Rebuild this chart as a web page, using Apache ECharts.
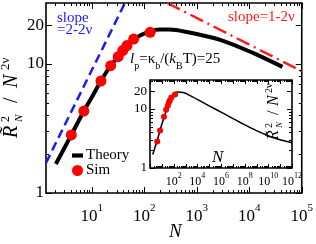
<!DOCTYPE html>
<html><head><meta charset="utf-8">
<script src="https://cdn.jsdelivr.net/npm/echarts@6/dist/echarts.min.js"></script>
<style>html,body{margin:0;padding:0;background:#fff}#c{width:316px;height:244px}</style>
</head><body><div id="c"></div>
<script>
// ---- data ----
const simN = [4.1, 7.1, 15, 23, 32, 39, 47, 63, 130];
const simV = [2.82, 4.32, 7.38, 9.7, 11.4, 12.7, 13.9, 15.6, 17.6];
const theoryN = [2.08, 4.1, 7.1, 10, 15, 23, 32, 47, 63, 130, 200, 300, 646, 2800, 11750, 43000];
const theoryV = [1.68, 2.82, 4.32, 5.5, 7.38, 9.7, 11.4, 13.9, 15.6, 18.0, 18.5, 18.5, 17.7, 15.4, 12.2, 9.5];
const insetTheoryN = [1.7, 4, 10, 32, 100, 200, 630, 2450, 6.3e4, 1.6e6, 4.3e7, 1.1e9, 2.8e10, 1e12];
const insetTheoryV = [1.7, 2.9, 5.5, 11, 18, 19.5, 19, 16.9, 11.9, 8.4, 5.9, 4.25, 3.26, 2.68];
const slopeRodN = [1.35, 43];
const slopeRodV = [1.71, 29.7];
const slopeGaussN = [275, 1e5];
const slopeGaussV = [29.7, 8.8];
const mainXTicks = [10, 100, 1000, 10000, 100000];
const mainYTicks = [1, 10, 20];
const insetXTicks = [100, 1e4, 1e6, 1e8, 1e10, 1e12];
const insetYTicks = [1, 10, 20];

const FONT = "'Liberation Serif','Times New Roman',serif";
const zip = (a, b) => a.map((v, i) => [v, b[i]]);
const XMIN = 1.35, XMAX = 1e5, YMIN = 1, YMAX = 29.7;
const IXMIN = 1, IXMAX = 1e12, IYMIN = 1, IYMAX = 31;

function minorVals(lo, hi) {
  const out = [];
  for (let k = Math.floor(Math.log10(lo)); k <= Math.ceil(Math.log10(hi)); k++) {
    for (let m = 2; m <= 9; m++) {
      const v = m * Math.pow(10, k);
      if (v >= lo && v <= hi) out.push(v);
    }
  }
  return out;
}
function decadeVals(lo, hi) {
  const out = [];
  for (let k = Math.ceil(Math.log10(lo) - 1e-9); k <= Math.log10(hi) + 1e-9; k++) out.push(Math.pow(10, k));
  return out;
}
function logAx(o) {
  return Object.assign({
    type: 'log', logBase: 10, splitLine: { show: false },
    axisLine: { show: false }, axisLabel: { show: false }, axisTick: { show: false }
  }, o);
}
const supFmt = v => '{b|10}{s|' + Math.round(Math.log10(v)) + '}';

const option = {
  animation: false,
  backgroundColor: '#fff',
  grid: [
    { left: 46, top: 3, width: 259, height: 190, show: true, borderColor: '#000', borderWidth: 1.6, backgroundColor: 'transparent' },
    { left: 150, top: 80, width: 142, height: 88, show: true, borderColor: '#000', borderWidth: 1.6, backgroundColor: '#fff', z: 3 }
  ],
  xAxis: [
    logAx({ gridIndex: 0, min: XMIN, max: XMAX, position: 'bottom',
      axisLabel: { show: true, customValues: mainXTicks, margin: 10, formatter: supFmt,
        rich: { b: { fontSize: 17, fontFamily: FONT, color: '#000', verticalAlign: 'bottom', lineHeight: 22 },
                s: { fontSize: 11, fontFamily: FONT, color: '#000', verticalAlign: 'top', lineHeight: 11 } } } }),
    logAx({ gridIndex: 1, min: IXMIN, max: IXMAX, position: 'bottom',
      axisLabel: { show: true, customValues: insetXTicks, margin: 4, formatter: supFmt,
        rich: { b: { fontSize: 12, fontFamily: FONT, color: '#000', verticalAlign: 'bottom', lineHeight: 16 },
                s: { fontSize: 8, fontFamily: FONT, color: '#000', verticalAlign: 'top', lineHeight: 8 } } } })
  ],
  yAxis: [
    logAx({ gridIndex: 0, min: YMIN, max: YMAX, position: 'left',
      axisLabel: { show: true, customValues: mainYTicks, margin: 2, fontSize: 17, fontFamily: FONT, color: '#000' } }),
    logAx({ gridIndex: 1, min: IYMIN, max: IYMAX, position: 'left',
      axisLabel: { show: true, customValues: insetYTicks, margin: 3, fontSize: 13, fontFamily: FONT, color: '#000' } })
  ],
  legend: {
    orient: 'vertical', left: 72, top: 148, itemWidth: 11, itemHeight: 11, itemGap: 0, padding: 0,
    data: [{ name: 'Theory', icon: 'path://M0,0L10,0L10,3.8L0,3.8Z' }, { name: 'Sim', icon: 'circle' }],
    textStyle: { fontSize: 15, lineHeight: 11, fontFamily: FONT, color: '#000', padding: [0, 0, 0, -2] }
  },
  series: [
    { name: 'slopeRod', type: 'line', xAxisIndex: 0, yAxisIndex: 0, data: zip(slopeRodN, slopeRodV), symbol: 'none', silent: true,
      lineStyle: { color: '#1a1aff', width: 2.5, type: [9, 5] }, z: 2 },
    { name: 'slopeGauss', type: 'line', xAxisIndex: 0, yAxisIndex: 0, data: zip(slopeGaussN, slopeGaussV), symbol: 'none', silent: true,
      lineStyle: { color: '#ff1a1a', width: 2.5, type: [14, 5, 2, 5] }, z: 2 },
    { name: 'Theory', type: 'line', xAxisIndex: 0, yAxisIndex: 0, data: zip(theoryN, theoryV), symbol: 'none', smooth: 0.3,
      lineStyle: { color: '#000', width: 4 }, itemStyle: { color: '#000' }, z: 2 },
    { name: 'Sim', type: 'scatter', xAxisIndex: 0, yAxisIndex: 0, data: zip(simN, simV), symbolSize: 11,
      itemStyle: { color: '#ff0000', opacity: 1 }, z: 3 },
    { name: 'insetTheory', type: 'line', xAxisIndex: 1, yAxisIndex: 1, data: zip(insetTheoryN, insetTheoryV), symbol: 'none', smooth: 0.3,
      lineStyle: { color: '#000', width: 1.5 }, z: 5 },
    { name: 'insetSim', type: 'scatter', xAxisIndex: 1, yAxisIndex: 1, data: zip(simN, simV), symbolSize: 6,
      itemStyle: { color: '#ff0000', opacity: 1 }, z: 6 }
  ]
};
const chart = echarts.init(document.getElementById('c'), null, { renderer: 'canvas' });
chart.setOption(option);

// ---- text annotations ----
const texts = [
  { type: 'text', left: 57, top: 11, style: { text: 'slope\n=2-2ν', font: '15px ' + FONT, fill: '#1a1aff', lineHeight: 12 } },
  { type: 'text', left: 228, top: 10, style: { text: 'slope=1-2ν', font: '15px ' + FONT, fill: '#ff1a1a' } },
  { type: 'text', left: 130, top: 52, style: {
      text: '{i|l}{s|p}{n|=κ}{s|b}{n|/(}{i|k}{s|B}{n|T)=25}',
      rich: {
        i: { font: 'italic 15px ' + FONT, fill: '#000', verticalAlign: 'top', lineHeight: 19 },
        n: { font: '15px ' + FONT, fill: '#000', verticalAlign: 'top', lineHeight: 19 },
        s: { font: '10px ' + FONT, fill: '#000', verticalAlign: 'bottom', lineHeight: 10 }
      } } },
  { type: 'text', left: 169, top: 222, style: { text: 'N', font: 'italic 19px ' + FONT, fill: '#000' } },
  { type: 'text', left: 212, top: 149, z: 10, style: { text: 'N', font: 'italic 17px ' + FONT, fill: '#000' } },
  { type: 'group', x: 22, y: 138, rotation: Math.PI / 2, children: [
    { type: 'text', x: 0, y: 0, style: { text: 'R̃', font: 'italic 20px ' + FONT, fill: '#000', verticalAlign: 'bottom' } },
    { type: 'text', x: 16, y: -10, style: { text: '2', font: '12px ' + FONT, fill: '#000', verticalAlign: 'bottom' } },
    { type: 'text', x: 16, y: 3, style: { text: 'N', font: 'italic 11px ' + FONT, fill: '#000', verticalAlign: 'bottom' } },
    { type: 'text', x: 35, y: 0, style: { text: '/', font: '20px ' + FONT, fill: '#000', verticalAlign: 'bottom' } },
    { type: 'text', x: 50, y: 0, style: { text: 'N', font: 'italic 20px ' + FONT, fill: '#000', verticalAlign: 'bottom' } },
    { type: 'text', x: 68, y: -10, style: { text: '2ν', font: '13px ' + FONT, fill: '#000', verticalAlign: 'bottom' } }
  ] },
  { type: 'group', x: 282, y: 140, rotation: Math.PI / 2, z: 10, children: [
    { type: 'text', z: 10, x: 0, y: 0, style: { text: 'R̃', font: 'italic 16px ' + FONT, fill: '#000', verticalAlign: 'bottom' } },
    { type: 'text', z: 10, x: 12, y: -8, style: { text: '2', font: '10px ' + FONT, fill: '#000', verticalAlign: 'bottom' } },
    { type: 'text', z: 10, x: 12, y: 2, style: { text: 'N', font: 'italic 9px ' + FONT, fill: '#000', verticalAlign: 'bottom' } },
    { type: 'text', z: 10, x: 25, y: 0, style: { text: '/', font: '16px ' + FONT, fill: '#000', verticalAlign: 'bottom' } },
    { type: 'text', z: 10, x: 34, y: 0, style: { text: 'N', font: 'italic 16px ' + FONT, fill: '#000', verticalAlign: 'bottom' } },
    { type: 'text', z: 10, x: 47, y: -8, style: { text: '2ν', font: '10px ' + FONT, fill: '#000', verticalAlign: 'bottom' } }
  ] }
];

// ---- axis tick marks, placed through the chart's own log scales ----
const ticks = [];
function seg(x1, y1, x2, y2) {
  ticks.push({ type: 'line', silent: true, z: 10, shape: { x1, y1, x2, y2 }, style: { stroke: '#000', lineWidth: 1 } });
}
function xTicks(xi, yi, yLo, yHi, vals, len) {
  const yb = chart.convertToPixel({ yAxisIndex: yi }, yLo);
  const yt = chart.convertToPixel({ yAxisIndex: yi }, yHi);
  vals.forEach(v => {
    const px = Math.round(chart.convertToPixel({ xAxisIndex: xi }, v)) + 0.5;
    seg(px, yb, px, yb - len);
    seg(px, yt, px, yt + len);
  });
}
function yTicks(yi, xi, xLo, xHi, vals, len) {
  const xl = chart.convertToPixel({ xAxisIndex: xi }, xLo);
  const xr = chart.convertToPixel({ xAxisIndex: xi }, xHi);
  vals.forEach(v => {
    const py = Math.round(chart.convertToPixel({ yAxisIndex: yi }, v)) + 0.5;
    seg(xl, py, xl + len, py);
    seg(xr, py, xr - len, py);
  });
}
xTicks(0, 0, YMIN, YMAX, mainXTicks, 6);
xTicks(0, 0, YMIN, YMAX, minorVals(XMIN, XMAX), 3);
yTicks(0, 0, XMIN, XMAX, mainYTicks, 6);
yTicks(0, 0, XMIN, XMAX, minorVals(YMIN, YMAX), 3);
xTicks(1, 1, IYMIN, IYMAX, decadeVals(IXMIN, IXMAX), 4);
xTicks(1, 1, IYMIN, IYMAX, minorVals(IXMIN, IXMAX), 2);
yTicks(1, 1, IXMIN, IXMAX, insetYTicks, 5);
yTicks(1, 1, IXMIN, IXMAX, minorVals(IYMIN, IYMAX), 3);

chart.setOption({ graphic: texts.concat(ticks) });
</script></body></html>
